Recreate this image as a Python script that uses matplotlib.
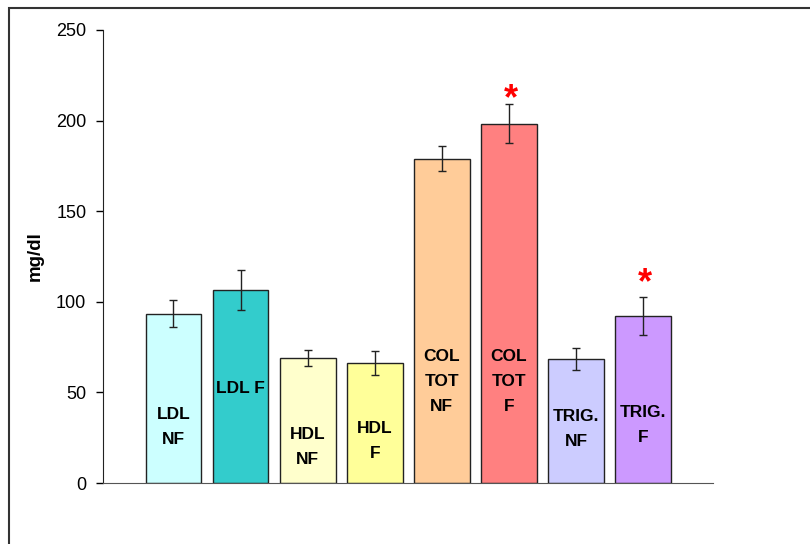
import matplotlib.pyplot as plt
from matplotlib.patches import Rectangle

plt.rcParams['font.family'] = ['Liberation Sans', 'DejaVu Sans']

# Lipid profile, non-fed (NF) vs fed (F)
labels = ['LDL\nNF', 'LDL F', 'HDL\nNF', 'HDL\nF', 'COL\nTOT\nNF', 'COL\nTOT\nF', 'TRIG.\nNF', 'TRIG.\nF']
means = [93.5, 106.5, 69.0, 66.2, 179.0, 198.3, 68.3, 92.3]
errors = [7.5, 11.0, 4.5, 6.5, 6.7, 10.8, 6.0, 10.6]
label_y = [31, 52, 20, 23, 56, 56, 30, 32]
colors = ['#CCFFFF', '#33CCCC', '#FFFFCC', '#FFFF99', '#FFCC99', '#FF8080', '#CCCCFF', '#CC99FF']

# significance markers: bar index and height of the asterisk
star_bars = [5, 7]
star_y = [216, 115]

fig = plt.figure(figsize=(8.1, 5.44), dpi=100)
ax = fig.add_axes([0.1272, 0.1121, 0.7531, 0.8328])

x = list(range(len(means)))
ax.bar(x, means, width=0.83, color=colors, edgecolor='#222222', linewidth=1.0, zorder=2)
ax.errorbar(x, means, yerr=errors, fmt='none', ecolor='#222222', elinewidth=1.0,
            capsize=3, capthick=1.0, zorder=3)

for xi, lab, ly in zip(x, labels, label_y):
    ax.text(xi, ly, lab, ha='center', va='center', fontsize=12.5, fontweight='bold',
            linespacing=1.85, zorder=4)

for b, sy in zip(star_bars, star_y):
    ax.annotate('*', xy=(b, sy), xytext=(1.5, -13), textcoords='offset points',
                ha='center', va='baseline', color='red', fontsize=26, fontweight='bold',
                zorder=4)

ax.set_xlim(-1.05, 8.04)
ax.set_ylim(0, 250)
ax.set_yticks([0, 50, 100, 150, 200, 250])
ax.set_xticks([])
ax.tick_params(axis='y', labelsize=13, length=5, width=1, direction='out', pad=7)
ax.set_ylabel('mg/dl', fontsize=13.5, fontweight='bold', labelpad=9)
ax.spines['top'].set_visible(False)
ax.spines['right'].set_visible(False)
ax.spines['left'].set_color('#222222')
ax.spines['bottom'].set_color('#555555')

# outer border around the chart area
fig.patches.append(Rectangle((9 / 810, -0.2), 1.2, 1.2 - 8 / 544, transform=fig.transFigure,
                             fill=False, edgecolor='#333333', linewidth=1.5))

fig.savefig('out.png', dpi=100)
